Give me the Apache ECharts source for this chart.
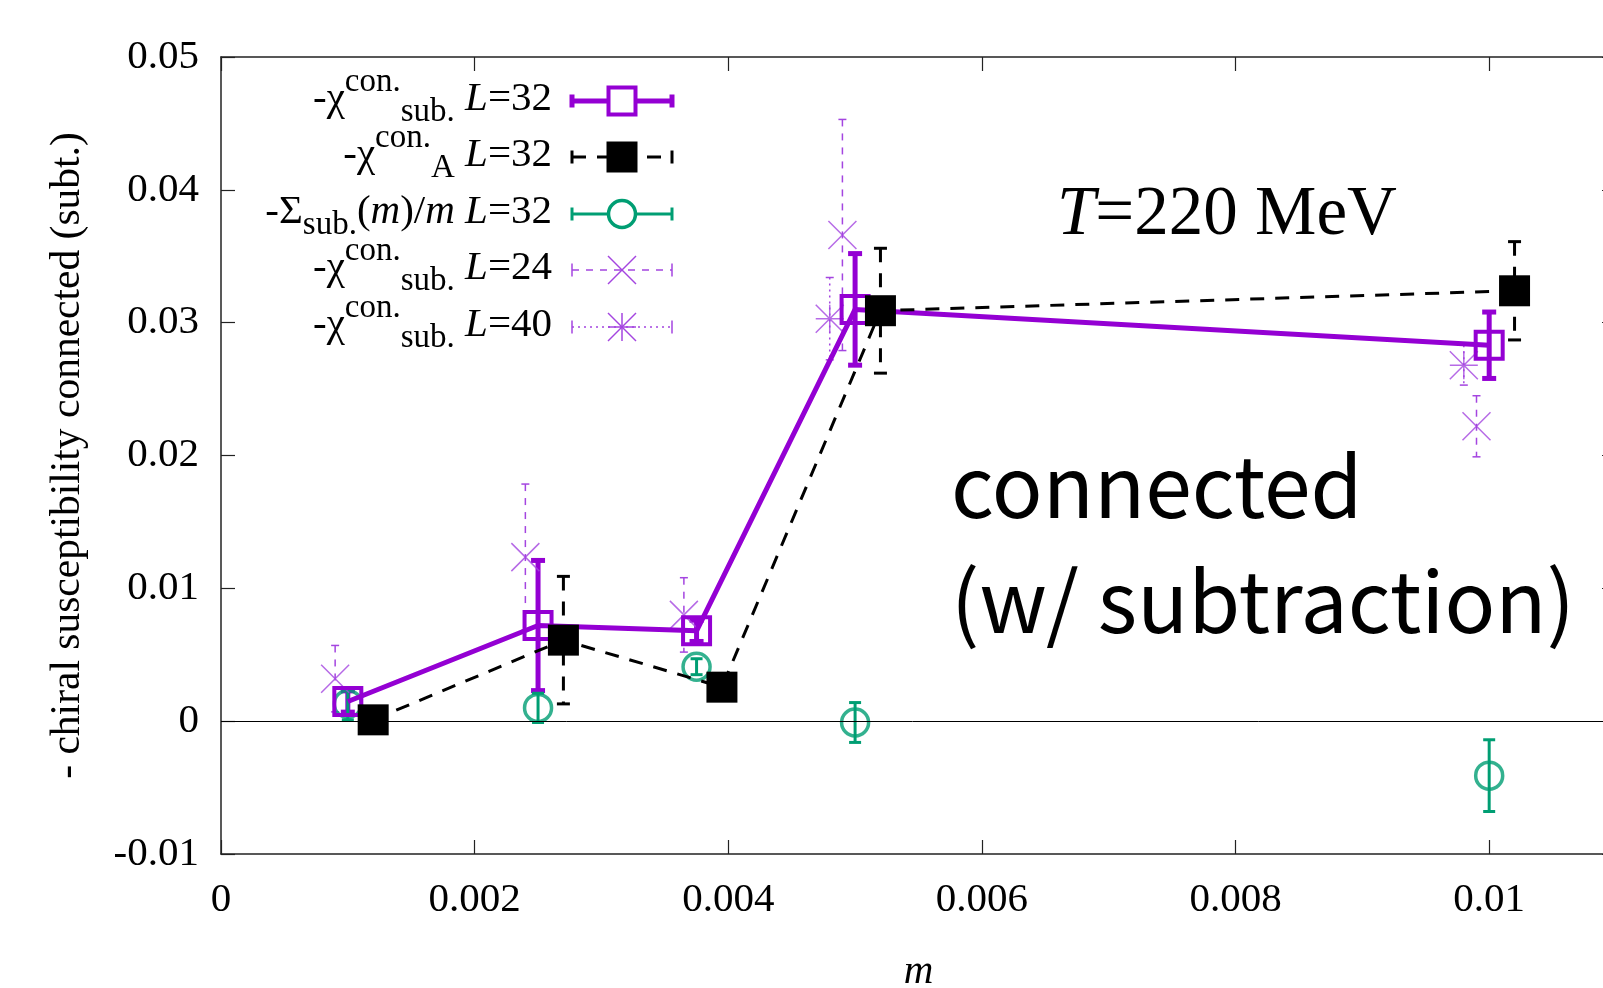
<!DOCTYPE html>
<html lang="en">
<head>
<meta charset="UTF-8">
<title>chiral susceptibility connected (subt.)</title>
<script src="https://cdn.jsdelivr.net/npm/echarts@6/dist/echarts.min.js"></script>
<style>body{margin:0;background:#fff;}</style>
</head>
<body>
<div id="main" style="width:1603px;height:988px;"></div>
<script>
// values
var mSub32      = [0.001, 0.0025, 0.00375, 0.005, 0.01];
var chiSub32    = [0.00148, 0.0072, 0.0068, 0.0310, 0.0283];
var chiSub32Err = [0.0008, 0.0049, 0.0008, 0.0042, 0.0025];

var mA32      = [0.0012, 0.0027, 0.00395, 0.0052, 0.0102];
var chiA32    = [0.0001, 0.0061, 0.00256, 0.0309, 0.0324];
var chiA32Err = [0.0004, 0.0048, 0.0004, 0.0047, 0.0037];

var mSig32   = [0.001, 0.0025, 0.00375, 0.005, 0.01];
var sig32    = [0.0013, 0.0010, 0.0041, -0.0001, -0.0041];
var sig32Err = [0.0012, 0.0011, 0.0006, 0.0015, 0.0027];

var mSub24      = [0.0009, 0.0024, 0.00365, 0.0049, 0.0099];
var chiSub24    = [0.0032, 0.01235, 0.0080, 0.0366, 0.0222];
var chiSub24Err = [0.0025, 0.0055, 0.0028, 0.0087, 0.0023];

var mSub40      = [0.0048, 0.0098];
var chiSub40    = [0.0303, 0.0268];
var chiSub40Err = [0.0031, 0.0015];

// axes
var xRange = [0, 0.011], xStep = 0.002;
var yRange = [-0.01, 0.05], yStep = 0.01;

var violet = '#9400d3', violet2 = '#a445e0', green = '#009e73';
var serif = '"Liberation Serif", "Times New Roman", serif';
var sans = '"Noto Sans CJK JP", "Noto Sans", sans-serif';

function zip(x, y, e) {
    var out = [];
    for (var i = 0; i < x.length; i++) out.push(e ? [x[i], y[i], e[i]] : [x[i], y[i]]);
    return out;
}

function tickText(v) { return String(+v.toFixed(4)); }

// vertical error bar with caps
function errorBars(color, width, dash, cap) {
    return function (params, api) {
        var x = api.value(0), y = api.value(1), e = api.value(2);
        var hi = api.coord([x, y + e]), lo = api.coord([x, y - e]);
        var h = cap / 2;
        return {
            type: 'group',
            children: [
                {type: 'line', shape: {x1: hi[0], y1: hi[1], x2: lo[0], y2: lo[1]},
                    style: {stroke: color, lineWidth: width, lineDash: dash}},
                {type: 'line', shape: {x1: hi[0] - h, y1: hi[1], x2: hi[0] + h, y2: hi[1]},
                    style: {stroke: color, lineWidth: width}},
                {type: 'line', shape: {x1: lo[0] - h, y1: lo[1], x2: lo[0] + h, y2: lo[1]},
                    style: {stroke: color, lineWidth: width}}
            ]
        };
    };
}

function errSeries(data, color, width, dash, cap) {
    return {
        type: 'custom', silent: true, data: data,
        encode: {x: 0, y: 1},
        renderItem: errorBars(color, width, dash, cap)
    };
}

// text made of several pieces (sub/superscripts, italics)
var ctx = document.createElement('canvas').getContext('2d');
function fontOf(p) { return (p.it ? 'italic ' : '') + p.size + 'px ' + serif; }
function N(t) { return {t: t, size: 41}; }
function I(t) { return {t: t, size: 41, it: true}; }
function SUP(t) { return {t: t, size: 33, dy: -17}; }
function SUB(t) { return {t: t, size: 33, dy: 13}; }

function pieces(list, x0, y, anchor) {
    var w = 0, out = [];
    list.forEach(function (p) { ctx.font = fontOf(p); p.w = ctx.measureText(p.t).width; w += p.w; });
    var x = anchor == 'right' ? x0 - w : x0;
    list.forEach(function (p) {
        out.push({type: 'text', x: x, y: y + (p.dy || 0), silent: true,
            style: {text: p.t, font: fontOf(p), fill: '#000', align: 'left', verticalAlign: 'middle'}});
        x += p.w;
    });
    return out;
}

// legend, drawn by hand (gnuplot style samples)
var sx1 = 572, sx2 = 672, sxm = 622;
var legendRows = [
    {y: 101, parts: [N('-χ'), SUP('con.'), SUB('sub.'), N(' '), I('L'), N('=32')],
        color: violet, width: 5, dash: null, sym: 'rect'},
    {y: 157, parts: [N('-χ'), SUP('con.'), SUB('A'), N(' '), I('L'), N('=32')],
        color: '#000', width: 3, dash: [14, 11], sym: 'fill'},
    {y: 214, parts: [N('-Σ'), SUB('sub.'), N('('), I('m'), N(')/'), I('m'), N(' '), I('L'), N('=32')],
        color: green, width: 3, dash: null, sym: 'circle'},
    {y: 270, parts: [N('-χ'), SUP('con.'), SUB('sub.'), N(' '), I('L'), N('=24')],
        color: violet2, width: 1.5, dash: [7, 7], sym: 'cross'},
    {y: 327, parts: [N('-χ'), SUP('con.'), SUB('sub.'), N(' '), I('L'), N('=40')],
        color: violet2, width: 1.5, dash: [2, 4], sym: 'star'}
];

var graphics = [];
legendRows.forEach(function (r) {
    graphics = graphics.concat(pieces(r.parts, 552, r.y - 2, 'right'));
    var capW = r.width > 2 ? r.width : 1.5;
    graphics.push({type: 'line', silent: true, shape: {x1: sx1, y1: r.y, x2: sx2, y2: r.y},
        style: {stroke: r.color, lineWidth: r.width, lineDash: r.dash}});
    graphics.push({type: 'line', silent: true, shape: {x1: sx1, y1: r.y - 6.5, x2: sx1, y2: r.y + 6.5},
        style: {stroke: r.color, lineWidth: capW}});
    graphics.push({type: 'line', silent: true, shape: {x1: sx2, y1: r.y - 6.5, x2: sx2, y2: r.y + 6.5},
        style: {stroke: r.color, lineWidth: capW}});
    if (r.sym == 'rect') {
        graphics.push({type: 'rect', silent: true, shape: {x: sxm - 13.5, y: r.y - 13.5, width: 27, height: 27},
            style: {fill: '#fff', stroke: r.color, lineWidth: 4}});
    } else if (r.sym == 'fill') {
        graphics.push({type: 'rect', silent: true, shape: {x: sxm - 15.5, y: r.y - 15.5, width: 31, height: 31},
            style: {fill: '#000'}});
    } else if (r.sym == 'circle') {
        graphics.push({type: 'circle', silent: true, shape: {cx: sxm, cy: r.y, r: 13.5},
            style: {fill: '#fff', stroke: r.color, lineWidth: 3.5}});
    } else {
        var d = 14, s = [[-d, -d, d, d], [-d, d, d, -d]];
        if (r.sym == 'star') s = s.concat([[0, -d, 0, d], [-d, 0, d, 0]]);
        s.forEach(function (q) {
            graphics.push({type: 'line', silent: true,
                shape: {x1: sxm + q[0], y1: r.y + q[1], x2: sxm + q[2], y2: r.y + q[3]},
                style: {stroke: r.color, lineWidth: 1.5}});
        });
    }
});

graphics = graphics.concat(pieces([{t: 'T', size: 69, it: true}, {t: '=220 MeV', size: 69}], 1057, 216, 'left'));
graphics.push({type: 'text', x: 951, y: 486, silent: true,
    style: {text: 'connected', font: '84px ' + sans, fill: '#000', verticalAlign: 'middle'}});
graphics.push({type: 'text', x: 951, y: 601, silent: true,
    style: {text: '(w/ subtraction)', font: '84px ' + sans, fill: '#000', verticalAlign: 'middle'}});

var axisLine = {show: true, onZero: false, lineStyle: {color: '#222', width: 1.5}};
var axisTick = {show: true, inside: true, length: 14, lineStyle: {color: '#222', width: 1.2}};
var labelStyle = {color: '#000', fontSize: 41, fontFamily: serif, formatter: tickText};

var myChart = echarts.init(document.getElementById('main'));
var option = {
    animation: false,
    backgroundColor: '#fff',
    grid: {left: 221, top: 57, width: 1395, height: 797, containLabel: false, outerBoundsMode: 'none'},
    xAxis: [
        {type: 'value', position: 'bottom', min: xRange[0], max: xRange[1], interval: xStep,
            axisLine: axisLine, axisTick: axisTick, splitLine: {show: false},
            axisLabel: Object.assign({margin: 26, showMaxLabel: false}, labelStyle),
            name: 'm', nameLocation: 'middle', nameGap: 98,
            nameTextStyle: {color: '#000', fontSize: 41, fontStyle: 'italic', fontFamily: serif}},
        {type: 'value', position: 'top', min: xRange[0], max: xRange[1], interval: xStep,
            axisLine: axisLine, axisTick: axisTick, splitLine: {show: false}, axisLabel: {show: false}}
    ],
    yAxis: [
        {type: 'value', position: 'left', min: yRange[0], max: yRange[1], interval: yStep,
            axisLine: axisLine, axisTick: axisTick, splitLine: {show: false},
            axisLabel: Object.assign({margin: 22}, labelStyle),
            name: '- chiral susceptibility connected (subt.)', nameLocation: 'middle', nameGap: 132,
            nameRotate: 90,
            nameTextStyle: {color: '#000', fontSize: 41.5, fontFamily: serif}},
        {type: 'value', position: 'right', min: yRange[0], max: yRange[1], interval: yStep,
            axisLine: axisLine, axisTick: axisTick, splitLine: {show: false}, axisLabel: {show: false}}
    ],
    graphic: graphics,
    series: [
        errSeries(zip(mSub32, chiSub32, chiSub32Err), violet, 5, null, 14),
        {
            type: 'line', silent: true, data: zip(mSub32, chiSub32),
            symbol: 'rect', symbolSize: 27,
            lineStyle: {color: violet, width: 5},
            itemStyle: {color: 'rgba(0,0,0,0)', borderColor: violet, borderWidth: 4},
            markLine: {silent: true, symbol: 'none', label: {show: false},
                lineStyle: {color: '#000', width: 1, type: 'solid'}, data: [{yAxis: 0}]}
        },
        errSeries(zip(mA32, chiA32, chiA32Err), '#000', 3, [14, 11], 13),
        {
            type: 'line', silent: true, data: zip(mA32, chiA32),
            symbol: 'rect', symbolSize: 31,
            lineStyle: {color: '#000', width: 3, type: [14, 11]},
            itemStyle: {color: '#000'}
        },
        errSeries(zip(mSig32, sig32, sig32Err), green, 3, null, 12),
        {
            type: 'scatter', silent: true, data: zip(mSig32, sig32),
            symbol: 'circle', symbolSize: 27,
            itemStyle: {color: 'rgba(0,0,0,0)', borderColor: green, borderWidth: 3.5}
        },
        errSeries(zip(mSub24, chiSub24, chiSub24Err), violet2, 1.5, [7, 7], 8),
        {
            type: 'scatter', silent: true, data: zip(mSub24, chiSub24),
            symbol: 'path://M0 0L20 20M20 0L0 20', symbolSize: 28,
            itemStyle: {color: 'none', borderColor: violet2, borderWidth: 1.5}
        },
        errSeries(zip(mSub40, chiSub40, chiSub40Err), violet2, 1.5, [2, 4], 8),
        {
            type: 'scatter', silent: true, data: zip(mSub40, chiSub40),
            symbol: 'path://M0 0L20 20M20 0L0 20M10 0L10 20M0 10L20 10', symbolSize: 28,
            itemStyle: {color: 'none', borderColor: violet2, borderWidth: 1.5}
        }
    ]
};
myChart.setOption(option);
</script>
</body>
</html>
